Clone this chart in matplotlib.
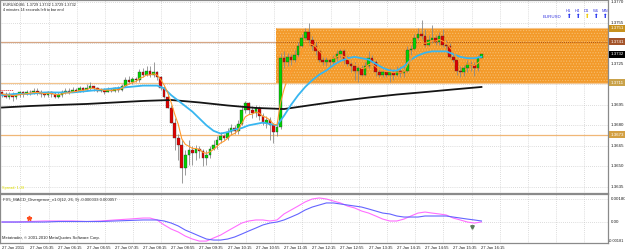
import matplotlib
matplotlib.use("Agg")
import matplotlib.pyplot as plt
import matplotlib.transforms as mtransforms
from matplotlib.patches import Rectangle
import numpy as np
import pandas as pd

plt.rcParams['font.family'] = ['Liberation Sans', 'DejaVu Sans']
plt.rcParams['hatch.linewidth'] = 0.5

# ---------------- data ----------------
time_labels = ["27 Jan 2011", "27 Jan 05:35", "27 Jan 06:15", "27 Jan 06:55", "27 Jan 07:35",
               "27 Jan 08:15", "27 Jan 08:55", "27 Jan 09:35", "27 Jan 10:15", "27 Jan 10:55",
               "27 Jan 11:35", "27 Jan 12:15", "27 Jan 12:55", "27 Jan 13:35", "27 Jan 14:15",
               "27 Jan 14:55", "27 Jan 15:35", "27 Jan 16:15"]
bars_per_label = 8

price_ticks = [1.3770, 1.3755, 1.3740, 1.3725, 1.3710, 1.3695, 1.3680, 1.3665, 1.3650, 1.3635]
macd_ticks = [0.00180, 0.0, -0.00181]
macd_tick_labels = ["0.00180", "0.00", "-0.00181"]

opens = [1.3704, 1.3703, 1.3701, 1.3702, 1.3701, 1.3702, 1.3704, 1.3703, 1.3704, 1.3704,
         1.3705, 1.3704, 1.3703, 1.3702, 1.3704, 1.3703, 1.3701, 1.3702, 1.3704, 1.3705,
         1.3704, 1.3706, 1.3705, 1.3707, 1.3706, 1.3707, 1.3709, 1.3707, 1.3705, 1.3706,
         1.3704, 1.3706, 1.3705, 1.3707, 1.3706, 1.3709, 1.3713, 1.3712, 1.3714, 1.3713,
         1.3719, 1.3717, 1.3720, 1.3717, 1.3719, 1.3715, 1.3707, 1.3701, 1.3693, 1.3682,
         1.3671, 1.3666, 1.3649, 1.3658, 1.3662, 1.3660, 1.3663, 1.3661, 1.3656, 1.3658,
         1.3663, 1.3666, 1.3669, 1.3672, 1.3671, 1.3675, 1.3678, 1.3676, 1.3681, 1.3691,
         1.3696, 1.3691, 1.3689, 1.3693, 1.3687, 1.3682, 1.3684, 1.3680, 1.3675, 1.3679,
         1.3729, 1.3726, 1.3730, 1.3728, 1.3731, 1.3738, 1.3744, 1.3748, 1.3742, 1.3738,
         1.3734, 1.3728, 1.3726, 1.3728, 1.3726, 1.3729, 1.3732, 1.3734, 1.3728, 1.3725,
         1.3723, 1.3720, 1.3722, 1.3717, 1.3723, 1.3729, 1.3726, 1.3719, 1.3717, 1.3719,
         1.3717, 1.3719, 1.3717, 1.3720, 1.3718, 1.3720, 1.3735, 1.3736, 1.3744, 1.3747,
         1.3745, 1.3739, 1.3742, 1.3744, 1.3741, 1.3745, 1.3739, 1.3738, 1.3730, 1.3728,
         1.3720, 1.3719, 1.3722, 1.3725, 1.3724, 1.3722, 1.3729]
highs = [1.3705, 1.3704, 1.3704, 1.3704, 1.3703, 1.3705, 1.3705, 1.3706, 1.3706, 1.3707,
         1.3707, 1.3706, 1.3704, 1.3705, 1.3705, 1.3704, 1.3704, 1.3706, 1.3707, 1.3707,
         1.3708, 1.3707, 1.3709, 1.3708, 1.3710, 1.3712, 1.3709, 1.3708, 1.3707, 1.3707,
         1.3708, 1.3707, 1.3708, 1.3709, 1.3710, 1.3715, 1.3716, 1.3715, 1.3715, 1.3721,
         1.3722, 1.3723, 1.3723, 1.3726, 1.3720, 1.3716, 1.3709, 1.3703, 1.3695, 1.3685,
         1.3674, 1.3669, 1.3662, 1.3669, 1.3665, 1.3666, 1.3665, 1.3663, 1.3662, 1.3665,
         1.3669, 1.3672, 1.3675, 1.3674, 1.3678, 1.3681, 1.3680, 1.3684, 1.3694, 1.3698,
         1.3697, 1.3694, 1.3695, 1.3694, 1.3689, 1.3687, 1.3686, 1.3682, 1.3681, 1.3733,
         1.3734, 1.3733, 1.3732, 1.3735, 1.3741, 1.3747, 1.3751, 1.3755, 1.3745, 1.3741,
         1.3735, 1.3730, 1.3730, 1.3729, 1.3731, 1.3735, 1.3736, 1.3736, 1.3731, 1.3728,
         1.3726, 1.3725, 1.3724, 1.3726, 1.3734, 1.3731, 1.3728, 1.3722, 1.3721, 1.3720,
         1.3722, 1.3721, 1.3723, 1.3723, 1.3723, 1.3738, 1.3739, 1.3747, 1.3751, 1.3757,
         1.3750, 1.3746, 1.3753, 1.3746, 1.3748, 1.3750, 1.3742, 1.3740, 1.3734, 1.3730,
         1.3723, 1.3724, 1.3728, 1.3727, 1.3726, 1.3731, 1.3732]
lows = [1.3701, 1.3700, 1.3699, 1.3698, 1.3699, 1.3701, 1.3701, 1.3702, 1.3702, 1.3703,
        1.3702, 1.3701, 1.3701, 1.3701, 1.3701, 1.3700, 1.3700, 1.3701, 1.3703, 1.3703,
        1.3704, 1.3704, 1.3704, 1.3704, 1.3705, 1.3706, 1.3705, 1.3704, 1.3704, 1.3703,
        1.3704, 1.3704, 1.3704, 1.3704, 1.3705, 1.3708, 1.3710, 1.3710, 1.3712, 1.3712,
        1.3715, 1.3716, 1.3715, 1.3715, 1.3713, 1.3706, 1.3700, 1.3693, 1.3682, 1.3662,
        1.3655, 1.3638, 1.3644, 1.3651, 1.3651, 1.3655, 1.3656, 1.3650, 1.3651, 1.3656,
        1.3662, 1.3663, 1.3667, 1.3669, 1.3669, 1.3673, 1.3674, 1.3674, 1.3680, 1.3689,
        1.3688, 1.3685, 1.3686, 1.3684, 1.3680, 1.3678, 1.3669, 1.3667, 1.3672, 1.3677,
        1.3722, 1.3723, 1.3724, 1.3726, 1.3730, 1.3737, 1.3742, 1.3739, 1.3735, 1.3731,
        1.3726, 1.3724, 1.3723, 1.3723, 1.3723, 1.3727, 1.3729, 1.3725, 1.3723, 1.3719,
        1.3713, 1.3712, 1.3716, 1.3716, 1.3722, 1.3724, 1.3716, 1.3715, 1.3715, 1.3715,
        1.3712, 1.3713, 1.3716, 1.3715, 1.3715, 1.3719, 1.3731, 1.3735, 1.3742, 1.3743,
        1.3737, 1.3738, 1.3740, 1.3739, 1.3739, 1.3737, 1.3736, 1.3729, 1.3726, 1.3717,
        1.3715, 1.3716, 1.3719, 1.3720, 1.3716, 1.3720, 1.3729]
closes = [1.3703, 1.3701, 1.3702, 1.3701, 1.3702, 1.3704, 1.3703, 1.3704, 1.3704, 1.3705,
          1.3704, 1.3703, 1.3702, 1.3704, 1.3703, 1.3701, 1.3702, 1.3704, 1.3705, 1.3704,
          1.3706, 1.3705, 1.3707, 1.3706, 1.3707, 1.3709, 1.3707, 1.3705, 1.3706, 1.3704,
          1.3706, 1.3705, 1.3707, 1.3706, 1.3709, 1.3713, 1.3712, 1.3714, 1.3713, 1.3719,
          1.3717, 1.3720, 1.3717, 1.3719, 1.3715, 1.3707, 1.3701, 1.3693, 1.3682, 1.3671,
          1.3666, 1.3649, 1.3658, 1.3662, 1.3660, 1.3663, 1.3661, 1.3656, 1.3658, 1.3663,
          1.3666, 1.3669, 1.3672, 1.3671, 1.3675, 1.3678, 1.3676, 1.3681, 1.3691, 1.3696,
          1.3691, 1.3689, 1.3693, 1.3687, 1.3682, 1.3684, 1.3680, 1.3675, 1.3679, 1.3729,
          1.3726, 1.3730, 1.3728, 1.3731, 1.3738, 1.3744, 1.3748, 1.3742, 1.3738, 1.3734,
          1.3728, 1.3726, 1.3728, 1.3726, 1.3729, 1.3732, 1.3734, 1.3728, 1.3725, 1.3723,
          1.3720, 1.3722, 1.3717, 1.3723, 1.3729, 1.3726, 1.3719, 1.3717, 1.3719, 1.3717,
          1.3719, 1.3717, 1.3720, 1.3718, 1.3720, 1.3735, 1.3736, 1.3744, 1.3747, 1.3745,
          1.3739, 1.3742, 1.3744, 1.3741, 1.3745, 1.3739, 1.3738, 1.3730, 1.3728, 1.3720,
          1.3719, 1.3722, 1.3725, 1.3724, 1.3722, 1.3729, 1.3732]

cyan_bars = [0, 4, 8, 12, 16, 20, 24, 28, 32, 36, 40,
             44, 46, 48, 50, 52, 54, 56, 58, 60, 62, 64, 66, 68, 70, 72, 74, 76, 78, 80,
             82, 84, 86, 88, 90, 92, 94, 96, 98, 100, 102, 104, 106, 108, 110, 112, 114,
             116, 118, 120, 122, 124, 126, 128, 130, 132, 134, 136]
cyan_ma = [1.3702, 1.3703, 1.3703, 1.3704, 1.3704, 1.3704, 1.3705, 1.3706, 1.3707, 1.3708, 1.3709,
           1.3709, 1.3707, 1.3702, 1.3698, 1.3694, 1.3690, 1.3685, 1.3680, 1.3676, 1.3674,
           1.3675, 1.3677, 1.3678, 1.3680, 1.3681, 1.3682, 1.3681, 1.3680, 1.3687, 1.3695,
           1.3702, 1.3708, 1.3713, 1.3717, 1.3720, 1.3724, 1.3727, 1.3729, 1.3730, 1.3729,
           1.3728, 1.3725, 1.3722, 1.3720, 1.3720, 1.3723, 1.3728, 1.3731, 1.3733, 1.3734,
           1.3734, 1.3734, 1.3732, 1.3730, 1.3729, 1.3729, 1.3730]
black_bars = [0, 8, 16, 24, 32, 40, 48, 56, 64, 72, 80, 88, 96, 104, 112, 120, 128, 136]
black_ma = [1.36930, 1.36941, 1.36949, 1.36956, 1.36967, 1.36978, 1.36985, 1.36967, 1.36945,
            1.36927, 1.36919, 1.36949, 1.36978, 1.37003, 1.37025, 1.37043, 1.37062, 1.37080]

# box / levels
box_start_bar = 77.7
box_top = 1.3751
box_bottom = 1.3711
level_brown = 1.3741
level_low = 1.3673
level_red_short = 1.3706
current_price = 1.3732

# MACD
macd_bars = [0, 4, 8, 12, 16, 20, 24, 28, 32, 36, 40,
             42, 44, 46, 48, 50, 52, 54, 56, 58, 60, 62, 64, 66, 68, 70, 72, 74, 76, 78, 80,
             82, 84, 86, 88, 90, 92, 94, 96, 98, 100, 102, 104, 106, 108, 110, 112, 114,
             116, 118, 120, 122, 124, 126, 128, 130, 132, 134, 136]
macd_main = [0.0, 0.0, 0.00004, 0.00008, 0.00008, 0.00008, 0.00004, 0.00008, 0.00016, 0.00023, 0.00031,
             0.00031, 0.00016, -0.00023, -0.00055, -0.00078, -0.00110, -0.00133, -0.00149, -0.00149,
             -0.00125, -0.00102, -0.00070, -0.00039, -0.00008, 0.00008, 0.00016, 0.00016, 0.00008,
             0.00016, 0.00063, 0.00094, 0.00125, 0.00157, 0.00180, 0.00188, 0.00180, 0.00164,
             0.00149, 0.00125, 0.00110, 0.00086, 0.00070, 0.00047, 0.00023, 0.00008, 0.00008,
             0.00023, 0.00047, 0.00070, 0.00078, 0.00070, 0.00063, 0.00055, 0.00031, 0.00016,
             0.0, -0.00008, 0.0]
macd_signal = [0.0, 0.0, 0.0, 0.0, 0.00004, 0.00004, 0.00004, 0.00004, 0.00008, 0.00012, 0.00016,
               0.00016, 0.00016, 0.00008, -0.00008, -0.00031, -0.00063, -0.00086, -0.00110, -0.00133,
               -0.00141, -0.00141, -0.00133, -0.00117, -0.00094, -0.00070, -0.00047, -0.00023,
               -0.00008, 0.0, 0.00016, 0.00039, 0.00063, 0.00094, 0.00117, 0.00133, 0.00149,
               0.00149, 0.00141, 0.00133, 0.00125, 0.00117, 0.00102, 0.00086, 0.00070, 0.00063,
               0.00047, 0.00039, 0.00039, 0.00039, 0.00047, 0.00047, 0.00047, 0.00047, 0.00039,
               0.00031, 0.00023, 0.00016, 0.00008]
div_up_bar, div_up_val = [7.7], [0.00031]
div_dn_bar, div_dn_val = [133.3], [-0.00039]

# ---------------- figure ----------------
PX_W, PX_H = 625, 252
fig = plt.figure(figsize=(PX_W / 100, PX_H / 100), dpi=100)
fig.patch.set_facecolor('white')


def frac_box(x0, y0, x1, y1):
    return [x0 / PX_W, 1 - y1 / PX_H, (x1 - x0) / PX_W, (y1 - y0) / PX_H]


ax = fig.add_axes(frac_box(0, 0, 608, 193))
ax2 = fig.add_axes(frac_box(0, 194, 608, 243))

XLIM = (-0.57, 171.9)
for a in (ax, ax2):
    a.set_xlim(*XLIM)
    a.set_xticks([])
    a.set_yticks([])
    a.set_facecolor('white')
    for s in a.spines.values():
        s.set_color('#8a8a8a')
        s.set_linewidth(0.9)
ax.set_ylim(1.36306, 1.37715)
ax2.set_ylim(-0.00164, 0.00219)

grid_kw = dict(color='#bdbdbd', lw=0.5, ls=(0, (1, 2)), zorder=0)
n = len(closes)
grid_bars = np.arange(5.2, XLIM[1], bars_per_label)
for gb in grid_bars:
    ax.axvline(gb, **grid_kw)
    ax2.axvline(gb, **grid_kw)
for p in price_ticks:
    ax.axhline(p, **grid_kw)
for v in macd_ticks:
    ax2.axhline(v, **grid_kw)

# box
ax.add_patch(Rectangle((box_start_bar, box_bottom), XLIM[1] + 5 - box_start_bar, box_top - box_bottom,
                       facecolor='#F39A2A', edgecolor='#F8BE6E', hatch='......', lw=0, zorder=1))
ax.hlines(box_top, box_start_bar, XLIM[1] + 5, color='#F6C58A', lw=0.8, zorder=1.5)

# levels
ax.axhline(level_brown, color='#D6A684', lw=0.9, zorder=0.8)
ax.hlines(level_brown, box_start_bar, XLIM[1] + 5, color='#8E3A14', lw=0.6, ls=(0, (1, 1.5)), zorder=2)
ax.axhline(box_bottom, color='#F2C48E', lw=0.9, zorder=2)
ax.axhline(level_low, color='#F0B777', lw=0.9, zorder=2)
ax.hlines(level_red_short, XLIM[0], 3.2, color='#E03030', lw=0.7, ls=(0, (1, 1)), zorder=6)

# candles
bars = np.arange(n)
o = np.array(opens); c = np.array(closes); h = np.array(highs); l = np.array(lows)
up = c >= o
ax.vlines(bars, l, h, color='#8a8a8a', lw=0.6, zorder=3)
body_bottom = np.minimum(o, c)
body_h = np.maximum(np.abs(c - o), 0.00004)
ax.bar(bars, body_h, bottom=body_bottom, width=0.75,
       color=np.where(up, '#00D200', '#E00000'), edgecolor='#333333', linewidth=0.25, zorder=4)

# moving averages
ax.plot(black_bars, black_ma, color='#151515', lw=1.3, zorder=5)
ax.plot(cyan_bars, cyan_ma, color='#38B6F0', lw=1.3, zorder=5)
orange_ma = pd.Series(closes).ewm(span=5, adjust=False).mean()
ax.plot(bars, orange_ma, color='#FF9A2E', lw=0.8, zorder=6)

# right axis labels
tr = mtransforms.blended_transform_factory(ax.transAxes, ax.transData)
for p in price_ticks:
    ax.text(1.004, p, f"{p:.4f}", transform=tr, fontsize=3.2, va='center', ha='left',
            color='#202020', clip_on=False)
hl = [(box_top, '#C8921E'), (level_brown, '#A4542A'), (current_price, '#000000'),
      (box_bottom, '#C9A24A'), (level_low, '#D3A043')]
for p, col in hl:
    ax.text(1.004, p, f"{p:.4f}", transform=tr, fontsize=3.2, va='center', ha='left',
            color='white', clip_on=False, zorder=10,
            bbox=dict(boxstyle='square,pad=0.35', fc=col, ec='none'))

tr2 = mtransforms.blended_transform_factory(ax2.transAxes, ax2.transData)
for v, t in zip(macd_ticks[:2], macd_tick_labels[:2]):
    ax2.text(1.004, v, t, transform=tr2, fontsize=3.2, va='center', ha='left',
             color='#202020', clip_on=False)
ax2.text(1.002, 0.01, macd_tick_labels[2], transform=ax2.transAxes, fontsize=2.8, va='bottom',
         ha='left', color='#202020', clip_on=False)

# MACD
ax2.plot(macd_bars, macd_main, color='#FF6EFF', lw=0.8, zorder=3)
ax2.plot(macd_bars, macd_signal, color='#6464FF', lw=0.8, zorder=3)
ax2.plot(div_up_bar, div_up_val, marker='*', color='#FF5020', ms=3.5, lw=0, zorder=4)
ax2.plot(div_dn_bar, div_dn_val, marker='v', color='#5C7A5C', ms=2.5, lw=0, zorder=4)

# time labels
trx = mtransforms.blended_transform_factory(ax2.transData, ax2.transAxes)
for k, lab in enumerate(time_labels):
    ax2.text(k * bars_per_label, -0.095, lab, transform=trx, fontsize=3.0, ha='left', va='center',
             color='#202020', clip_on=False)

# texts
def ftxt(x, y, s, **kw):
    fig.text(x / PX_W, 1 - y / PX_H, s, va='center', ha='left', **kw)

ftxt(3, 4.5, "EURUSD,M5  1.3729 1.3732 1.3729 1.3732", fontsize=2.7, color='#202020')
ftxt(3, 10, "4 minutes 14 seconds left to bar end", fontsize=2.7, color='#202020')
ftxt(2, 188, "Spread: 1.28", fontsize=2.8, color='#E0E000')
ftxt(3, 200, "FX5_MACD_Divergence_v1.0(12, 26, 9) -0.000033 0.000057", fontsize=3.1, color='#303030')
ftxt(2, 238, "Metatrader, \u00a9 2001-2010 MetaQuotes Software Corp.", fontsize=3.0, color='#202020')

ftxt(543, 16.5, "EURUSD", fontsize=3.2, color='#3838E0')
tf_labels = ["H1", "H4", "D1", "W1", "MN"]
tf_colors = ['#2030F0', '#2030F0', '#F0C800', '#2030F0', '#2030F0']
tf_x = [566, 575, 584, 593, 602]
for x, t, col in zip(tf_x, tf_labels, tf_colors):
    ftxt(x, 10.5, t, fontsize=3.0, color='#3838E0')
    ftxt(x + 0.5, 17, "\u2b06", fontsize=4.0, color=col, family='DejaVu Sans')

fig.savefig('out.png', dpi=100)
